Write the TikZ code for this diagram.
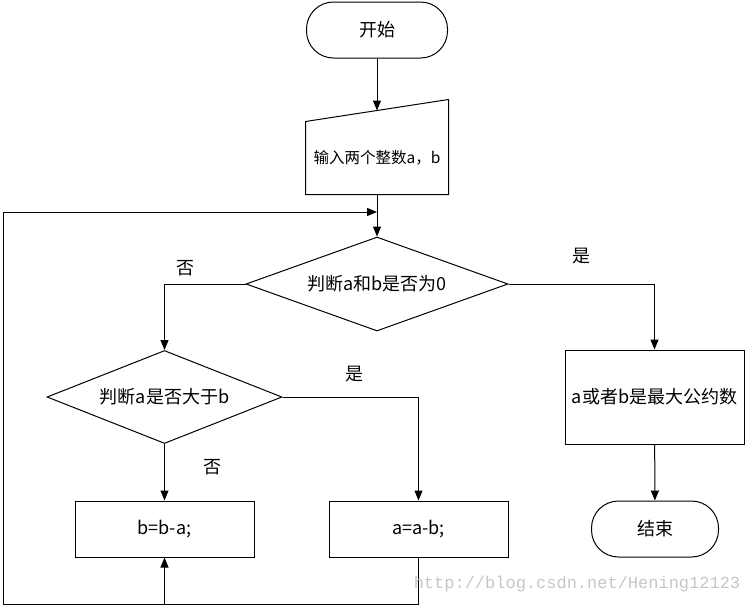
\documentclass[tikz,border=0pt]{standalone}
\usepackage{fontspec}
\setmainfont{Noto Sans CJK SC}
\newfontfamily\wmfont{Liberation Mono}
\usetikzlibrary{shapes.geometric,arrows.meta}

\begin{document}
\begin{tikzpicture}[x=1pt,y=-1pt,line width=1pt,
    termnode/.style={rectangle,rounded corners=27pt,draw,minimum width=141pt,minimum height=56pt,font=\fontsize{18}{20}\selectfont},
    procnode/.style={rectangle,draw,minimum width=179pt,minimum height=56pt,font=\fontsize{18}{20}\selectfont},
    decnode/.style={diamond,draw,aspect=2.5,inner sep=0pt,font=\fontsize{18}{20}\selectfont},
    lbl/.style={font=\fontsize{18}{20}\selectfont},
    arr/.style={-{Triangle[length=10pt,width=8pt]}}]
    \useasboundingbox (0,0) rectangle (749,606);

    \node[termnode] (start) at (377,30) {开始};
    \node[minimum width=142pt,minimum height=72pt,inner sep=0pt,font=\fontsize{15.5}{18}\selectfont] (input) at (377,158) {输入两个整数a，b};
    \draw (input.south west) -- (input.south east) -- ([yshift=22pt]input.north east) -- (input.north west) -- cycle;
    \coordinate (intop) at ([yshift=11pt]input.north);

    \node[decnode,minimum width=262pt,minimum height=94pt] (iszero) at (377,284) {判断a和b是否为0};
    \node[decnode,minimum width=235pt,minimum height=93pt] (isbig) at (164.5,397) {判断a是否大于b};
    \node[procnode,minimum height=94pt] (result) at (654.5,397) {a或者b是最大公约数};
    \node[termnode,minimum width=127pt] (stop) at (655,529) {结束};
    \node[procnode] (bminus) at (164.5,529) {b=b-a;};
    \node[procnode] (aminus) at (418.5,529) {a=a-b;};

    \coordinate (loopbot) at (3,604);
    \coordinate (looptop) at (3,212);
    \coordinate (merge) at (377,212);

    \path[arr]
    (start) edge (intop)
    (input) edge (iszero)
    (result) edge (stop)
    (isbig) edge (bminus);

    \draw[arr] (iszero.west) -| (isbig.north);
    \draw[arr] (iszero.east) -| (result.north);
    \draw[arr] (isbig.east) -| (aminus.north);
    \draw[arr] (aminus.south) |- (loopbot) -- (looptop) -- (merge);
    \draw[arr] (bminus.south |- loopbot) -- (bminus.south);

    \node[lbl] (no1) at (185,268) {否};
    \node[lbl] (yes1) at (581,256) {是};
    \node[lbl] (yes2) at (354,374) {是};
    \node[lbl] (no2) at (212,467) {否};

    \node[font=\wmfont\fontsize{17}{20}\selectfont,text=gray!45,inner sep=0pt] (mark) at (577,584) {http://blog.csdn.net/Hening12123};
\end{tikzpicture}
\end{document}
